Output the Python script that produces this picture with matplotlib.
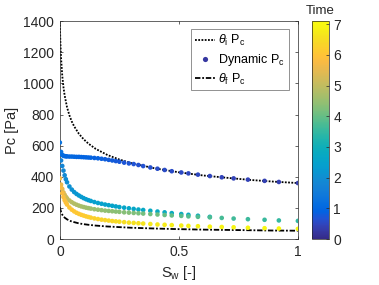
import matplotlib
matplotlib.use("Agg")

import matplotlib.pyplot as plt
import numpy as np
from matplotlib.colors import LinearSegmentedColormap, Normalize

plt.rcParams['font.family'] = ['Liberation Sans', 'DejaVu Sans']
plt.rcParams['mathtext.fontset'] = 'custom'
plt.rcParams['mathtext.rm'] = 'Liberation Sans'
plt.rcParams['mathtext.it'] = 'Liberation Sans:italic'

# --- data ------------------------------------------------------------------
# static capillary pressure curves (initial / final contact angle)
sw_line = [0.0, 0.002, 0.005, 0.01, 0.015, 0.02, 0.03, 0.04, 0.05, 0.06, 0.08,
           0.10, 0.12, 0.15, 0.20, 0.25, 0.30, 0.40, 0.50, 0.60, 0.70, 0.80,
           0.90, 1.0]
pc_theta_i = [1376, 1268, 1161, 1049, 976, 923, 847, 795, 755, 724, 676,
              641, 613, 580, 540, 511, 488, 454, 429, 409, 394, 380, 369, 360]
pc_theta_f = [206, 190, 174, 157, 146, 138, 127, 119, 113, 109, 101,
              96, 92, 87, 81, 77, 73, 68, 64, 61, 59, 57, 55, 54]

# saturation grid of the dynamic Pc samples
sw_pts = [0.0, 0.005, 0.01, 0.015, 0.02, 0.025, 0.03, 0.04, 0.05, 0.06,
          0.07, 0.08, 0.09, 0.10, 0.11, 0.12, 0.13, 0.145, 0.16, 0.175,
          0.19, 0.205, 0.22, 0.235, 0.25, 0.27, 0.29, 0.31, 0.33, 0.35,
          0.38, 0.41, 0.44, 0.47, 0.51, 0.54, 0.58, 0.63, 0.68, 0.73,
          0.79, 0.86, 0.92, 1.0]
nan = float('nan')

# dynamic Pc, one list per visible branch, with the time of each sample
pc_a = [620, 560, 540, 535, 533, 532, 531, 530, 530, 529,
        528, 528, 527, 526, 525, 524, 523, 521, 519, 516,
        513, 509, 505, 501, 497, 491, 486, 482, 476, 469,
        460, 452, 444, 436, 428, 422, 414, 405, 397, 390,
        382, 374, 367, 360]
t_a = [1.3, 1.25, 1.15, 1.1, 1.1, 1.05, 1.05, 1.0, 1.0, 1.0,
       0.98, 0.96, 0.95, 0.94, 0.93, 0.92, 0.9, 0.88, 0.86, 0.84,
       0.82, 0.8, 0.78, 0.76, 0.74, 0.72, 0.7, 0.68, 0.66, 0.64,
       0.62, 0.6, 0.58, 0.56, 0.54, 0.52, 0.5, 0.48, 0.46, 0.44,
       0.42, 0.4, 0.38, 0.36]

pc_b = [nan, 505, 470, 440, 410, 385, 365, 338, 318, 302,
        290, 280, 271, 263, 256, 250, 245, 238, 232, 227,
        222, 218, 214, 210, 206, 202, 198, 194, 190, 187,
        182, 177, 172, 167, 161, 156, 150, 143, nan, nan,
        nan, nan, nan, nan]
t_b = [nan, 1.7, 1.8, 1.85, 1.9, 1.95, 2.0, 2.05, 2.1, 2.15,
       2.2, 2.25, 2.3, 2.3, 2.35, 2.35, 2.4, 2.4, 2.45, 2.45,
       2.5, 2.5, 2.55, 2.55, 2.6, 2.6, 2.65, 2.65, 2.7, 2.7,
       2.75, 2.75, 2.8, 2.8, 2.85, 2.85, 2.9, 2.9, nan, nan,
       nan, nan, nan, nan]

pc_c = [nan, 350, 322, 300, 285, 272, 262, 248, 237, 228,
        221, 215, 210, 206, 202, 199, 196, 192, 189, 186,
        183, 181, 179, 177, 175, 172, 170, 168, 166, 164,
        161, 158, 155, 152, 149, 146, 143, 140, 136, 132,
        128, 124, 120, 117]
t_c = [nan, 5.6, 5.5, 5.4, 5.3, 5.2, 5.1, 5.0, 4.9, 4.85,
       4.8, 4.75, 4.7, 4.65, 4.6, 4.6, 4.55, 4.5, 4.5, 4.45,
       4.45, 4.4, 4.4, 4.35, 4.35, 4.3, 4.3, 4.25, 4.2, 4.15,
       4.1, 4.05, 4.0, 3.95, 3.9, 3.85, 3.8, 3.75, 3.7, 3.65,
       3.6, 3.55, 3.5, 3.45]

pc_d = [390, 330, 295, 270, 250, 235, 222, 203, 189, 178,
        169, 162, 156, 151, 146, 142, 138, 133, 129, 125,
        122, 119, 116, 114, 112, 109, 106, 104, 102, 100,
        97, 94, 92, 90, 87, 85, 83, 80, 78, 76,
        73, 70, 68, 66]
t_d = [5.7, 5.75, 5.8, 5.85, 5.9, 5.9, 5.95, 6.0, 6.0, 6.05,
       6.05, 6.1, 6.1, 6.15, 6.15, 6.2, 6.2, 6.25, 6.3, 6.3,
       6.35, 6.4, 6.4, 6.45, 6.5, 6.5, 6.55, 6.6, 6.6, 6.65,
       6.7, 6.7, 6.75, 6.8, 6.8, 6.85, 6.85, 6.9, 6.9, 6.95,
       6.95, 7.0, 7.0, 7.0]

# MATLAB parula (subset of the 64-entry table)
parula_rgb = [
    (0.2081, 0.1663, 0.5292), (0.2123, 0.2138, 0.6270), (0.1959, 0.2645, 0.7279),
    (0.1253, 0.3242, 0.8303), (0.0117, 0.3875, 0.8820), (0.0165, 0.4266, 0.8786),
    (0.0498, 0.4586, 0.8641), (0.0723, 0.4887, 0.8467), (0.0793, 0.5200, 0.8312),
    (0.0641, 0.5570, 0.8240), (0.0343, 0.5966, 0.8199), (0.0239, 0.6287, 0.8038),
    (0.0228, 0.6535, 0.7768), (0.0384, 0.6743, 0.7436), (0.0843, 0.6928, 0.7062),
    (0.1453, 0.7098, 0.6646), (0.2178, 0.7250, 0.6193), (0.3022, 0.7376, 0.5712),
    (0.3953, 0.7459, 0.5244), (0.4871, 0.7491, 0.4840), (0.5709, 0.7485, 0.4494),
    (0.6473, 0.7456, 0.4188), (0.7184, 0.7411, 0.3905), (0.7858, 0.7356, 0.3633),
    (0.8507, 0.7299, 0.3360), (0.9139, 0.7258, 0.3063), (0.9739, 0.7314, 0.2666),
    (0.9990, 0.7653, 0.2164), (0.9880, 0.8066, 0.1794), (0.9697, 0.8481, 0.1475),
    (0.9589, 0.8949, 0.1132), (0.9661, 0.9514, 0.0755), (0.9763, 0.9831, 0.0538),
]
parula = LinearSegmentedColormap.from_list("parula", parula_rgb)
norm = Normalize(vmin=0, vmax=7.1)

# --- figure -----------------------------------------------------------------
fig = plt.figure(figsize=(3.79, 2.85), dpi=100)
ax = fig.add_axes([0.158, 0.161, 0.628, 0.765])
cax = fig.add_axes([0.823, 0.161, 0.045, 0.765])

lbl_i = r"$\theta_{\rm i}$ P$_{\rm c}$"
lbl_dyn = r"Dynamic P$_{\rm c}$"
lbl_f = r"$\theta_{\rm f}$ P$_{\rm c}$"

ax.plot(sw_line, pc_theta_i, color="k", linestyle=(0, (1, 0.8)), linewidth=1.3,
        label=lbl_i, zorder=2)

sw_arr = np.array(sw_pts)
for pc, t in [(pc_a, t_a), (pc_b, t_b), (pc_c, t_c), (pc_d, t_d)]:
    pc = np.array(pc)
    t = np.array(t)
    ok = ~np.isnan(pc)
    sc = ax.scatter(sw_arr[ok], pc[ok], c=t[ok], cmap=parula, norm=norm,
                    s=11, linewidths=0, zorder=3)

ax.plot(sw_line, pc_theta_f, color="k", linestyle=(0, (3, 1, 1, 1)), linewidth=1.3,
        label=lbl_f, zorder=2)

# legend entry for the scatter, in the low end of parula
ax.scatter([], [], color=parula_rgb[1], s=14, linewidths=0, label=lbl_dyn)
handles, labels = ax.get_legend_handles_labels()
order = [labels.index(lbl_i), labels.index(lbl_dyn), labels.index(lbl_f)]
leg = ax.legend([handles[i] for i in order], [labels[i] for i in order],
                loc="upper right", bbox_to_anchor=(0.962, 0.963),
                borderaxespad=0, fontsize=9, handlelength=1.6,
                handletextpad=0.3, labelspacing=0.3, borderpad=0.3,
                fancybox=False, framealpha=1)
leg.get_frame().set_edgecolor("#808080")
leg.get_frame().set_linewidth(0.6)

ax.set_xlim(0, 1)
ax.set_ylim(0, 1400)
ax.set_xticks([0, 0.5, 1])
ax.set_xticklabels(["0", "0.5", "1"])
ax.set_yticks(range(0, 1401, 200))
ax.tick_params(direction="in", top=True, right=True, length=2.5, width=0.5,
               labelsize=10, colors="#262626", pad=4)
for sp in ax.spines.values():
    sp.set_color("#262626")
    sp.set_linewidth(0.5)
ax.set_ylabel("Pc [Pa]", fontsize=10.5, color="#262626", labelpad=3)
ax.set_xlabel(r"S$_{\rm w}$ [-]", fontsize=10.5, color="#262626", labelpad=4)

cb = fig.colorbar(sc, cax=cax)
cb.set_ticks(range(0, 8))
cb.ax.tick_params(direction="in", length=2.5, width=0.5, labelsize=10,
                  colors="#262626", pad=3)
cb.outline.set_edgecolor("#262626")
cb.outline.set_linewidth(0.5)
cb.ax.set_title("Time", fontsize=9.5, pad=5, color="#262626")

fig.savefig("out.png", dpi=100)
